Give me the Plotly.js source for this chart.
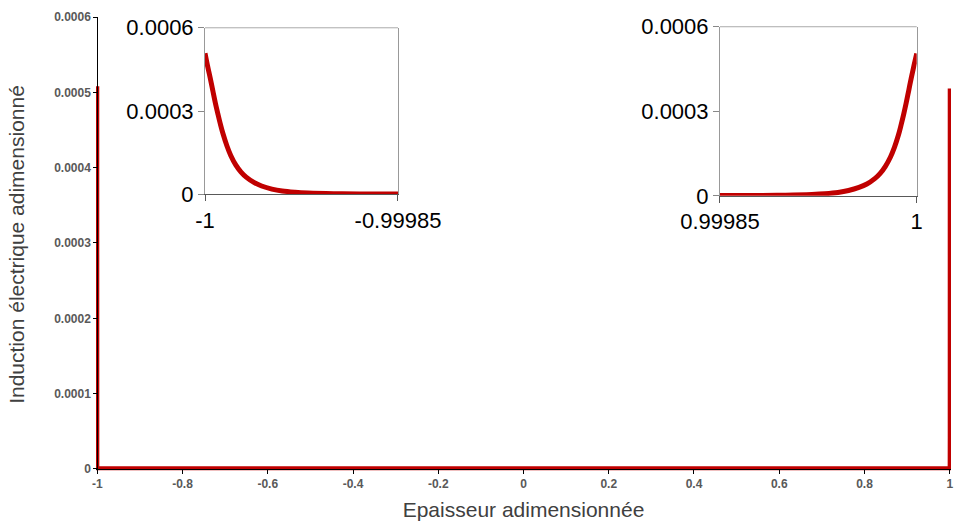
<!DOCTYPE html>
<html>
<head>
<meta charset="utf-8">
<script src="https://cdn.plot.ly/plotly-3.0.1.min.js"></script>
<style>html,body{margin:0;padding:0;background:#fff;}#chart{width:954px;height:521px;}</style>
</head>
<body>
<div id="chart"></div>
<script>
// Left boundary layer (x from -1 to -0.99985)
var leftX = [-1, -0.999998, -0.999996, -0.999994, -0.999992, -0.99999, -0.999988, -0.999986, -0.999983, -0.99998, -0.999976, -0.999972, -0.999968, -0.999962, -0.999956, -0.999948, -0.99994, -0.99993, -0.99992, -0.9999, -0.99988, -0.99985];
var leftY = [0.000508, 0.000462, 0.000420, 0.000375, 0.000330, 0.000290, 0.000252, 0.000218, 0.000175, 0.000140, 0.000105, 0.000080, 0.000062, 0.000043, 0.000030, 0.000019, 0.000012, 0.0000075, 0.000005, 0.0000025, 0.0000015, 0.000001];
// Right boundary layer (x from 0.99985 to 1)
var rightX = [0.99985, 0.99988, 0.9999, 0.99992, 0.99993, 0.99994, 0.999948, 0.999956, 0.999962, 0.999968, 0.999972, 0.999976, 0.99998, 0.999983, 0.999986, 0.999988, 0.99999, 0.999992, 0.999994, 0.999996, 0.999998, 1];
var rightY = [0.000001, 0.0000015, 0.0000025, 0.000005, 0.0000075, 0.000012, 0.000019, 0.000030, 0.000042, 0.000061, 0.000079, 0.000104, 0.000138, 0.000172, 0.000215, 0.000250, 0.000288, 0.000330, 0.000376, 0.000422, 0.000464, 0.000505];

var mainXTicks = [-1, -0.8, -0.6, -0.4, -0.2, 0, 0.2, 0.4, 0.6, 0.8, 1];
var mainXLabels = ['-1', '-0.8', '-0.6', '-0.4', '-0.2', '0', '0.2', '0.4', '0.6', '0.8', '1'];
var mainYTicks = [0, 0.0001, 0.0002, 0.0003, 0.0004, 0.0005, 0.0006];
var mainYLabels = ['0', '0.0001', '0.0002', '0.0003', '0.0004', '0.0005', '0.0006'];
var insetYTicks = [0, 0.0003, 0.0006];
var insetYLabels = ['0', '0.0003', '0.0006'];
var leftInsetXTicks = [-1, -0.99985];
var leftInsetXLabels = ['-1', '-0.99985'];
var rightInsetXTicks = [0.99985, 1];
var rightInsetXLabels = ['0.99985', '1'];

var RED = '#c00000';
var FAM = 'Liberation Sans, Arial, sans-serif';

var traces = [
  {x: leftX.concat(rightX), y: leftY.concat(rightY), type: 'scatter', mode: 'lines',
   line: {color: RED, width: 4}, xaxis: 'x', yaxis: 'y', hoverinfo: 'skip'},
  {x: leftX, y: leftY, type: 'scatter', mode: 'lines', line: {color: RED, width: 5, shape: 'spline'},
   xaxis: 'x2', yaxis: 'y2', hoverinfo: 'skip'},
  {x: rightX, y: rightY, type: 'scatter', mode: 'lines', line: {color: RED, width: 5, shape: 'spline'},
   xaxis: 'x3', yaxis: 'y3', hoverinfo: 'skip'}
];

var mainTickFont = {family: FAM, size: 12, color: '#595959', weight: 'bold'};
var insetTickFont = {family: FAM, size: 22, color: '#000'};

function insetX(dom, anchor, vals, labels, rng) {
  return {domain: dom, anchor: anchor, range: rng, tickmode: 'array', tickvals: vals, ticktext: labels,
    ticks: 'outside', ticklen: 6, tickcolor: '#595959', showline: true, linecolor: '#595959', linewidth: 1,
    showgrid: false, zeroline: false, tickfont: insetTickFont, fixedrange: true, ticklabeloverflow: 'allow'};
}
function insetY(dom, anchor) {
  return {domain: dom, anchor: anchor, range: [0, 0.0006], tickmode: 'array', tickvals: insetYTicks, ticktext: insetYLabels,
    ticks: 'outside', ticklen: 6, tickcolor: '#888', showline: true, linecolor: '#999', linewidth: 1, mirror: true,
    showgrid: false, zeroline: false, tickfont: insetTickFont, fixedrange: true};
}

// main plot: ranges padded slightly so the thick curve on the edges is not clipped
var xPad = 0.003, yPad = 0.000004;
var layout = {
  width: 954, height: 521,
  margin: {l: 96, r: 3, t: 17, b: 49},
  paper_bgcolor: '#fff', plot_bgcolor: '#fff',
  showlegend: false,
  font: {family: FAM},
  xaxis: {domain: [0, 1], anchor: 'free', position: yPad / (0.0006 + yPad), range: [-1 - xPad, 1 + xPad],
    tickmode: 'array', tickvals: mainXTicks, ticktext: mainXLabels, ticklabeloverflow: 'allow',
    ticks: 'outside', ticklen: 4, tickcolor: '#000', showline: true, linecolor: '#000', showgrid: false, zeroline: false,
    tickfont: mainTickFont, automargin: false,
    title: {text: 'Epaisseur adimensionnée', font: {family: FAM, size: 21, color: '#404040'}, standoff: 12}},
  yaxis: {domain: [0, 1], anchor: 'free', position: xPad / (2 + 2 * xPad), range: [-yPad, 0.0006],
    tickmode: 'array', tickvals: mainYTicks, ticktext: mainYLabels,
    ticks: 'outside', ticklen: 4, tickcolor: '#000', showline: true, linecolor: '#000', showgrid: false, zeroline: false,
    tickfont: mainTickFont, automargin: false,
    title: {text: 'Induction électrique adimensionné', font: {family: FAM, size: 21, color: '#404040'}, standoff: 22}},
  xaxis2: insetX([0.1275, 0.3532], 'y2', leftInsetXTicks, leftInsetXLabels, [-1, -0.99985]),
  yaxis2: insetY([0.6102, 0.9763], 'x2'),
  xaxis3: insetX([0.7298, 0.9599], 'y3', rightInsetXTicks, rightInsetXLabels, [0.99985, 1]),
  yaxis3: insetY([0.6069, 0.9786], 'x3'),
  shapes: [
    {type: 'line', xref: 'x2 domain', yref: 'y2 domain', x0: 0, x1: 1, y0: 1, y1: 1, line: {color: '#aaa', width: 1}},
    {type: 'line', xref: 'x3 domain', yref: 'y3 domain', x0: 0, x1: 1, y0: 1, y1: 1, line: {color: '#aaa', width: 1}}
  ]
};

Plotly.newPlot('chart', traces, layout, {staticPlot: true, displayModeBar: false});
</script>
</body>
</html>
